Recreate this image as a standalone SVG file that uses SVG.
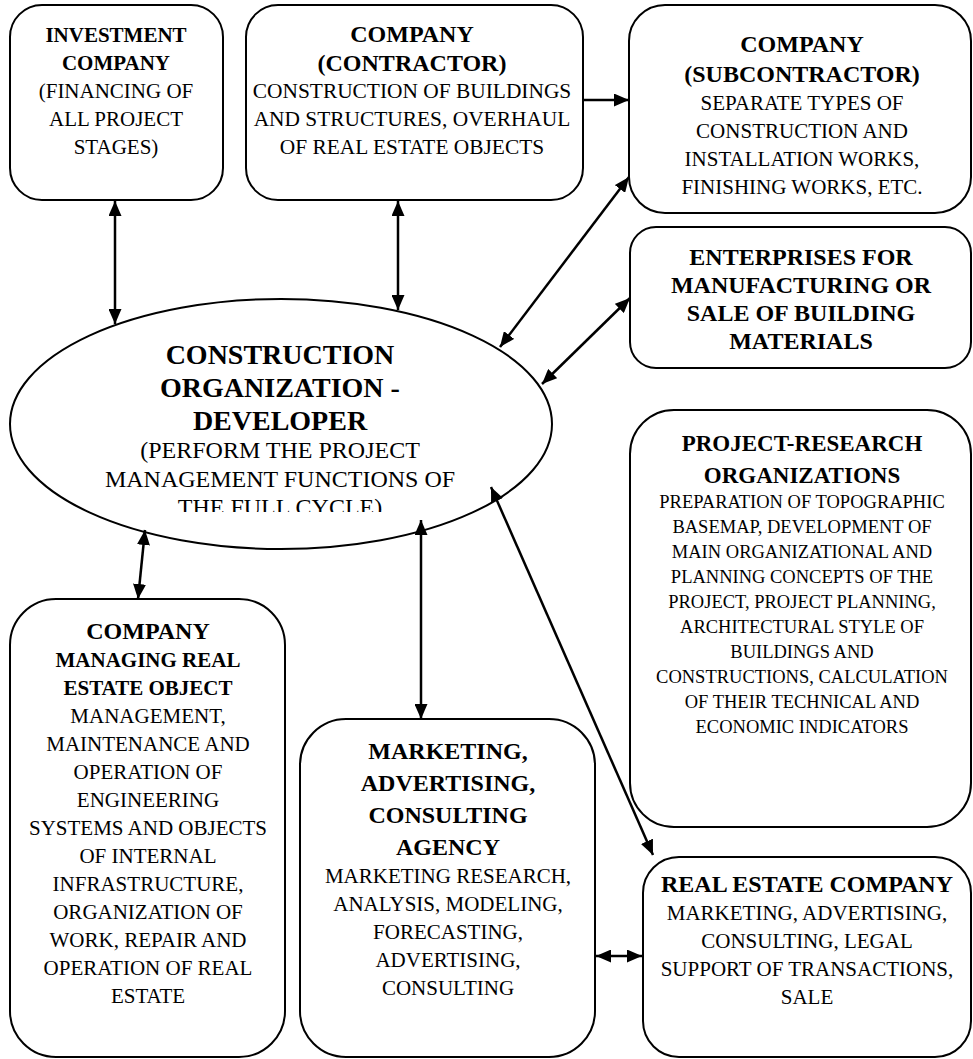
<svg xmlns="http://www.w3.org/2000/svg" width="973" height="1059" viewBox="0 0 973 1059">
<defs>
<style>
.box{fill:#fff;stroke:#000;stroke-width:2}
text{font-family:"Liberation Serif","Times New Roman",serif;fill:#000;text-anchor:middle}
.b{font-weight:bold}
.conn line{stroke:#000;stroke-width:2.5}
</style>
<marker id="ah" viewBox="0 0 15 13" refX="15" refY="6.5" markerWidth="15" markerHeight="13" markerUnits="userSpaceOnUse" orient="auto-start-reverse">
<path d="M0,0 L15,6.5 L0,13 z" fill="#000"/>
</marker>
<clipPath id="clipEl"><rect x="0" y="0" width="973" height="512"/></clipPath>
</defs>
<rect width="973" height="1059" fill="#fff"/>

<g id="investment">
<rect class="box" x="10" y="5" width="213" height="195" rx="32"/>
<text font-family="Liberation Serif, serif" font-size="21"><tspan class="b" x="116" y="42">INVESTMENT</tspan><tspan class="b" x="116" y="70">COMPANY</tspan><tspan x="116" y="98">(FINANCING OF</tspan><tspan x="116" y="126">ALL PROJECT</tspan><tspan x="116" y="154">STAGES)</tspan></text>
</g>

<g id="contractor">
<rect class="box" x="246" y="5" width="337" height="195" rx="32"/>
<text font-family="Liberation Serif, serif" font-size="21.4"><tspan class="b" font-size="24" x="412" y="42">COMPANY</tspan><tspan class="b" font-size="24" x="412" y="71">(CONTRACTOR)</tspan><tspan x="412" y="98">CONSTRUCTION OF BUILDINGS</tspan><tspan x="412" y="126">AND STRUCTURES, OVERHAUL</tspan><tspan x="412" y="154">OF REAL ESTATE OBJECTS</tspan></text>
</g>

<g id="subcontractor">
<rect class="box" x="629" y="5" width="342" height="208" rx="36"/>
<text font-family="Liberation Serif, serif" font-size="21"><tspan class="b" font-size="24" x="802" y="52">COMPANY</tspan><tspan class="b" font-size="24" x="802" y="82">(SUBCONTRACTOR)</tspan><tspan x="802" y="110">SEPARATE TYPES OF</tspan><tspan x="802" y="138">CONSTRUCTION AND</tspan><tspan x="802" y="166">INSTALLATION WORKS,</tspan><tspan x="802" y="194">FINISHING WORKS, ETC.</tspan></text>
</g>

<g id="enterprises">
<rect class="box" x="630" y="227" width="341" height="141" rx="26"/>
<text font-family="Liberation Serif, serif" class="b" font-size="24"><tspan x="801" y="265">ENTERPRISES FOR</tspan><tspan x="801" y="293">MANUFACTURING OR</tspan><tspan x="801" y="321">SALE OF BUILDING</tspan><tspan x="801" y="349">MATERIALS</tspan></text>
</g>

<g id="developer">
<ellipse class="box" cx="281" cy="424" rx="271" ry="125"/>
<text font-family="Liberation Serif, serif" class="b" font-size="28"><tspan x="280" y="364">CONSTRUCTION</tspan><tspan x="280" y="397">ORGANIZATION -</tspan><tspan x="280" y="430">DEVELOPER</tspan></text>
<text font-family="Liberation Serif, serif" font-size="24" clip-path="url(#clipEl)"><tspan x="280" y="458">(PERFORM THE PROJECT</tspan><tspan x="280" y="487">MANAGEMENT FUNCTIONS OF</tspan><tspan x="280" y="515">THE FULL CYCLE)</tspan></text>
</g>

<g id="project-research">
<rect class="box" x="630" y="410" width="341" height="417" rx="44"/>
<text font-family="Liberation Serif, serif" font-size="18.5"><tspan class="b" font-size="23" x="802" y="451">PROJECT-RESEARCH</tspan><tspan class="b" font-size="23" x="802" y="483">ORGANIZATIONS</tspan><tspan x="802" y="508">PREPARATION OF TOPOGRAPHIC</tspan><tspan x="802" y="533">BASEMAP, DEVELOPMENT OF</tspan><tspan x="802" y="558">MAIN ORGANIZATIONAL AND</tspan><tspan x="802" y="583">PLANNING CONCEPTS OF THE</tspan><tspan x="802" y="608">PROJECT, PROJECT PLANNING,</tspan><tspan x="802" y="633">ARCHITECTURAL STYLE OF</tspan><tspan x="802" y="658">BUILDINGS AND</tspan><tspan x="802" y="683">CONSTRUCTIONS, CALCULATION</tspan><tspan x="802" y="708">OF THEIR TECHNICAL AND</tspan><tspan x="802" y="733">ECONOMIC INDICATORS</tspan></text>
</g>

<g id="managing">
<rect class="box" x="10" y="599" width="275" height="458" rx="46"/>
<text font-family="Liberation Serif, serif" font-size="21"><tspan class="b" font-size="24" x="148" y="639">COMPANY</tspan><tspan class="b" x="148" y="667">MANAGING REAL</tspan><tspan class="b" x="148" y="695">ESTATE OBJECT</tspan><tspan x="148" y="723">MANAGEMENT,</tspan><tspan x="148" y="751">MAINTENANCE AND</tspan><tspan x="148" y="779">OPERATION OF</tspan><tspan x="148" y="807">ENGINEERING</tspan><tspan x="148" y="835">SYSTEMS AND OBJECTS</tspan><tspan x="148" y="863">OF INTERNAL</tspan><tspan x="148" y="891">INFRASTRUCTURE,</tspan><tspan x="148" y="919">ORGANIZATION OF</tspan><tspan x="148" y="947">WORK, REPAIR AND</tspan><tspan x="148" y="975">OPERATION OF REAL</tspan><tspan x="148" y="1003">ESTATE</tspan></text>
</g>

<g id="marketing">
<rect class="box" x="300" y="719" width="295" height="338" rx="46"/>
<text font-family="Liberation Serif, serif" font-size="21"><tspan class="b" font-size="24" x="448" y="759">MARKETING,</tspan><tspan class="b" font-size="24" x="448" y="791">ADVERTISING,</tspan><tspan class="b" font-size="24" x="448" y="823">CONSULTING</tspan><tspan class="b" font-size="24" x="448" y="855">AGENCY</tspan><tspan x="448" y="883">MARKETING RESEARCH,</tspan><tspan x="448" y="911">ANALYSIS, MODELING,</tspan><tspan x="448" y="939">FORECASTING,</tspan><tspan x="448" y="967">ADVERTISING,</tspan><tspan x="448" y="995">CONSULTING</tspan></text>
</g>

<g id="real-estate">
<rect class="box" x="643" y="857" width="328" height="200" rx="36"/>
<text font-family="Liberation Serif, serif" font-size="21"><tspan class="b" font-size="24" x="807" y="892">REAL ESTATE COMPANY</tspan><tspan x="807" y="920">MARKETING, ADVERTISING,</tspan><tspan x="807" y="948">CONSULTING, LEGAL</tspan><tspan x="807" y="976">SUPPORT OF TRANSACTIONS,</tspan><tspan x="807" y="1004">SALE</tspan></text>
</g>

<g id="connectors" class="conn">
<line x1="115" y1="201" x2="115" y2="324" marker-start="url(#ah)" marker-end="url(#ah)"/>
<line x1="398" y1="201" x2="398" y2="310" marker-start="url(#ah)" marker-end="url(#ah)"/>
<line x1="583" y1="100" x2="629" y2="100" marker-end="url(#ah)"/>
<line x1="629" y1="177" x2="500" y2="347" marker-start="url(#ah)" marker-end="url(#ah)"/>
<line x1="630" y1="298" x2="542" y2="384" marker-start="url(#ah)" marker-end="url(#ah)"/>
<line x1="145" y1="530" x2="138" y2="599" marker-start="url(#ah)" marker-end="url(#ah)"/>
<line x1="421" y1="520" x2="421" y2="719" marker-start="url(#ah)" marker-end="url(#ah)"/>
<line x1="491" y1="487" x2="653" y2="855" marker-start="url(#ah)" marker-end="url(#ah)"/>
<line x1="596" y1="956" x2="642" y2="956" marker-start="url(#ah)" marker-end="url(#ah)"/>
</g>
</svg>
